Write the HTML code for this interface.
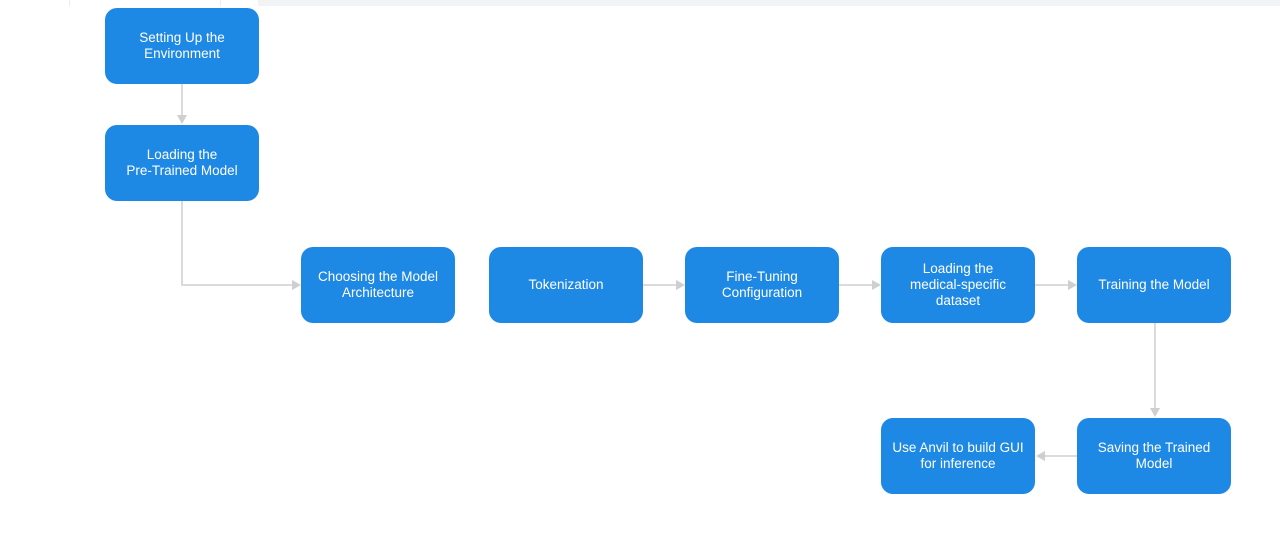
<!DOCTYPE html>
<html><head><style>
body{margin:0;width:1280px;height:546px;background:#fff;position:relative;overflow:hidden;font-family:"Liberation Sans",Arial,sans-serif}
.b{position:absolute;width:154px;height:76px;background:#1e88e5;border-radius:12px;color:#fff;font-size:13.5px;line-height:16px;display:flex;align-items:center;justify-content:center;text-align:center}
svg{position:absolute;left:0;top:0}
</style></head><body>
<div style="position:absolute;left:258px;top:0;width:1022px;height:6px;background:#f2f3f5"></div>
<div style="position:absolute;left:69px;top:0;width:1px;height:6px;background:#eee"></div>
<div style="position:absolute;left:220px;top:0;width:1px;height:6px;background:#eee"></div>
<svg width="1280" height="546">
<g stroke="#cfcfcf" stroke-width="1.5" fill="none">
<line x1="182" y1="84" x2="182" y2="116"/>
<polyline points="182,201 182,285 292,285"/>
<line x1="643" y1="285" x2="676" y2="285"/>
<line x1="839" y1="285" x2="872" y2="285"/>
<line x1="1035" y1="285" x2="1068" y2="285"/>
<line x1="1155" y1="323" x2="1155" y2="409"/>
<line x1="1077" y1="456" x2="1044" y2="456"/>
</g>
<g fill="#cfcfcf">
<polygon points="177,115 187,115 182,124"/>
<polygon points="292,280 292,290 301,285"/>
<polygon points="676,280 676,290 685,285"/>
<polygon points="872,280 872,290 881,285"/>
<polygon points="1068,280 1068,290 1077,285"/>
<polygon points="1150,408 1160,408 1155,417"/>
<polygon points="1045,451 1045,461 1036,456"/>
</g>
</svg>
<div class="b" style="left:105px;top:8px">Setting Up the<br>Environment</div>
<div class="b" style="left:105px;top:125px">Loading the<br>Pre-Trained Model</div>
<div class="b" style="left:301px;top:247px">Choosing the Model<br>Architecture</div>
<div class="b" style="left:489px;top:247px">Tokenization</div>
<div class="b" style="left:685px;top:247px">Fine-Tuning<br>Configuration</div>
<div class="b" style="left:881px;top:247px">Loading the<br>medical-specific<br>dataset</div>
<div class="b" style="left:1077px;top:247px">Training the Model</div>
<div class="b" style="left:881px;top:418px">Use Anvil to build GUI<br>for inference</div>
<div class="b" style="left:1077px;top:418px">Saving the Trained<br>Model</div>
</body></html>
